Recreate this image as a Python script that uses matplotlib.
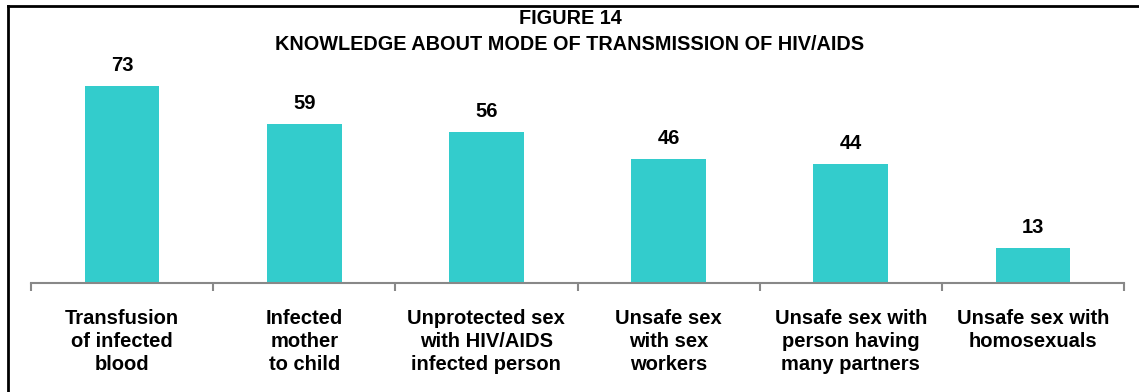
import numpy as np
import matplotlib.pyplot as plt
from matplotlib.lines import Line2D

plt.rcParams['font.family'] = ['Liberation Sans', 'DejaVu Sans']

categories = ['Transfusion\nof infected\nblood',
              'Infected\nmother\nto child',
              'Unprotected sex\nwith HIV/AIDS\ninfected person',
              'Unsafe sex\nwith sex\nworkers',
              'Unsafe sex with\nperson having\nmany partners',
              'Unsafe sex with\nhomosexuals']
values = [73, 59, 56, 46, 44, 13]

W, H = 1139, 392
fig = plt.figure(figsize=(W / 100, H / 100), dpi=100, facecolor='white')

# axes placed in pixel terms: x from 31 to 1124, baseline at y=283
left, right, base = 31, 1124, 283
ymax = 80
px_per_unit = 2.7
top = base - ymax * px_per_unit
ax = fig.add_axes([left / W, 1 - base / H, (right - left) / W, (base - top) / H])

x = np.arange(len(values))
ax.bar(x, values, width=0.41, color='#33CCCC', zorder=2)
for xi, v in zip(x, values):
    ax.annotate(str(v), (xi, v), xytext=(0, 8), textcoords='offset points',
                ha='center', va='bottom', fontsize=14.5, fontweight='bold')

ax.set_xlim(-0.5, len(values) - 0.5)
ax.set_ylim(0, ymax)
for s in ['top', 'right', 'left']:
    ax.spines[s].set_visible(False)
ax.spines['bottom'].set_color('#888888')
ax.spines['bottom'].set_linewidth(1.5)
ax.set_yticks([])

# category boundary ticks
ax.set_xticks(np.arange(len(values) + 1) - 0.5, minor=True)
ax.tick_params(axis='x', which='minor', length=6, width=1.5, color='#888888')
ax.set_xticks(x)
ax.set_xticklabels(categories, fontsize=14.5, fontweight='bold', linespacing=1.27)
ax.tick_params(axis='x', which='major', length=0, pad=19)

fig.text(570 / W, 1 - 18 / H, 'FIGURE 14', ha='center', va='center',
         fontsize=14.3, fontweight='bold')
fig.text(570 / W, 1 - 45 / H, 'KNOWLEDGE ABOUT MODE OF TRANSMISSION OF HIV/AIDS',
         ha='center', va='center', fontsize=14.3, fontweight='bold')

# outer frame (top and left edges visible)
fig.add_artist(Line2D([8 / W, 1.05], [1 - 6 / H, 1 - 6 / H], color='black', lw=2,
                      transform=fig.transFigure))
fig.add_artist(Line2D([8 / W, 8 / W], [1 - 6 / H, -0.05], color='black', lw=2,
                      transform=fig.transFigure))

fig.savefig('out.png', dpi=100)
